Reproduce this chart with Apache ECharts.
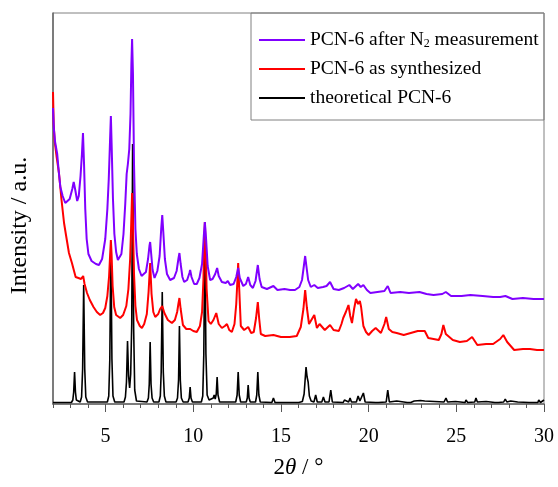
<!DOCTYPE html>
<html><head><meta charset="utf-8">
<script src="https://cdn.jsdelivr.net/npm/echarts@6/dist/echarts.min.js"></script>
<style>html,body{margin:0;padding:0;background:#fff}#c{width:558px;height:487px}</style>
</head><body><div id="c"></div>
<script>
// series names
const seriesNames = ['PCN-6 after N2 measurement', 'PCN-6 as synthesized', 'theoretical PCN-6'];
// x tick labels
const xTickLabels = [5, 10, 15, 20, 25, 30];

// [2theta, intensity (a.u., offset for stacking)]
const theoretical = [
[2,1.5],[3.05,1.5],[3.13,4],[3.18,12],[3.23,32],[3.28,12],[3.33,4],[3.42,2],
[3.55,2],[3.63,7],[3.69,35],[3.75,119],[3.81,35],[3.87,7],[3.97,2],
[5.1,2],[5.18,8],[5.24,45],[5.3,162],[5.36,45],[5.42,8],[5.52,2],
[6.05,2],[6.13,7],[6.19,22],[6.25,63],[6.31,28],[6.37,16],[6.43,30],[6.49,80],[6.54,260],[6.6,75],[6.66,14],[6.76,3],
[7.36,2],[7.44,6],[7.49,20],[7.54,62],[7.59,20],[7.65,6],[7.74,2],
[8.04,2],[8.12,8],[8.17,32],[8.23,112],[8.29,32],[8.35,8],[8.44,2],
[9.02,2],[9.1,6],[9.16,24],[9.21,78],[9.26,24],[9.32,6],[9.42,2],
[9.7,2],[9.77,6],[9.82,17],[9.87,6],[9.95,2],
[10.46,2],[10.54,8],[10.6,50],[10.66,175],[10.72,50],[10.79,9],[10.9,4],[11.14,6],[11.19,9],[11.25,5],[11.31,10],[11.36,27],[11.41,9],[11.5,2],
[11.88,2],[11.97,4],[12.06,2],
[12.42,2],[12.5,9],[12.56,32],[12.62,9],[12.7,2],
[13.02,2],[13.08,6],[13.13,19],[13.18,6],[13.25,2],
[13.55,2],[13.62,9],[13.68,32],[13.74,9],[13.82,2],
[14.48,1.5],[14.57,6],[14.66,1.5],
[16.02,1.5],[16.13,3],[16.22,2.5],[16.32,10],[16.43,37],[16.49,27],[16.55,22],[16.62,8],[16.72,3],
[16.88,2],[16.98,9],[17.07,2],
[17.33,2],[17.42,7],[17.51,2],
[17.74,2],[17.84,14],[17.93,2],
[18.55,1.5],[18.62,4],[18.7,2],[18.86,2],[18.94,6],[19.02,2],
[19.3,2],[19.4,8],[19.5,3],[19.6,3],[19.7,11],[19.8,2],
[20.4,1.5],[20.46,2.5],[20.55,1.5],
[21.0,2],[21.09,14],[21.18,2],
[21.6,3],[21.7,1.5],[22.2,1.5],[22.3,3],[22.4,1.5],[22.6,3],[22.7,1.5],[22.95,3.5],[23.05,1.5],[23.2,3],[23.3,1.5],
[24.3,2],[24.41,6],[24.5,2],
[24.95,2.5],[25.05,1.5],[25.5,1.5],[25.55,4],[25.65,1.5],
[26.05,2],[26.12,6],[26.2,2],
[26.7,2.5],[26.8,1.5],[27.2,1.5],[27.3,2.5],[27.4,1.5],[27.7,2],[27.79,5],[27.88,2],[28.1,3],[28.2,1.5],[28.5,2],[28.6,1.5],
[29.15,1.5],[29.2,3],[29.3,1.5],[29.65,1.5],[29.7,4],[29.8,1.5],[30,4]
];

const asSynthesized = [
[2,312],[2.04,280],[2.1,262],[2.2,248],[2.34,231],[2.48,205],[2.63,181],[2.75,168],[2.91,151],[3.08,141],[3.2,133],[3.29,127],[3.45,126],[3.6,125],[3.72,128],[3.8,120],[3.94,111],[4.1,104],[4.31,97],[4.5,92],[4.69,89],[4.85,91],[4.98,96],
[5.1,108],[5.2,128],[5.26,150],[5.3,164],[5.34,150],[5.4,118],[5.49,97],[5.6,89],[5.83,86],[6.0,89],[6.18,98],[6.3,115],[6.4,145],[6.46,180],[6.51,211],[6.56,180],[6.62,130],[6.7,98],[6.79,84],[6.95,78],
[7.07,76],[7.2,80],[7.35,90],[7.45,112],[7.54,141],[7.62,110],[7.72,92],[7.83,87],[8.0,90],[8.11,95],[8.23,98],[8.35,91],[8.55,84],[8.78,81],[8.95,84],[9.08,92],[9.15,100],[9.21,106],[9.28,95],[9.41,79],[9.6,75],[9.82,75],
[10.0,73],[10.2,72],[10.38,78],[10.5,92],[10.58,125],[10.62,160],[10.66,182],[10.7,160],[10.76,115],[10.87,83],[11.0,80],[11.15,84],[11.31,91],[11.45,80],[11.63,76],[11.8,78],[11.92,80],
[12.05,74],[12.2,72],[12.35,80],[12.45,100],[12.52,125],[12.56,141],[12.62,115],[12.71,78],[12.9,74],[13.13,77],[13.3,71],[13.45,72],[13.58,86],[13.68,102],[13.76,85],[13.85,70],
[14.1,68],[14.57,69],[15.0,67],[15.5,67],[15.9,68],[16.13,77],[16.28,95],[16.38,114],[16.48,96],[16.6,80],[16.7,78],[16.9,89],[17.05,76],[17.2,80],[17.5,74],[17.8,79],
[18.0,74],[18.3,73],[18.45,80],[18.55,86],[18.7,92],[18.85,99],[18.95,88],[19.05,81],[19.17,95],[19.28,105],[19.4,100],[19.5,103],[19.57,97],[19.7,78],[19.85,72],
[20.0,69],[20.2,73],[20.4,76],[20.7,71],[20.9,80],[21.0,87],[21.15,75],[21.35,72],[21.6,71],[22.0,69],[22.4,71],[22.8,73],[23.2,73],[23.4,66],
[24.0,64],[24.15,70],[24.26,79],[24.4,70],[24.8,64],[25.2,62],[25.6,63],[25.9,67],[26.2,59],[26.7,60],[27.1,60],[27.5,65],[27.68,69],[27.9,62],[28.3,54],[28.8,55],[29.2,55],[29.6,54],[30,54]
];

const afterN2 = [
[2,296],[2.05,275],[2.12,262],[2.24,250],[2.33,232],[2.42,217],[2.55,208],[2.7,201],[2.8,199],[2.95,205],[3.1,215],[3.18,222],[3.27,214],[3.38,203],[3.47,208],[3.57,228],[3.65,250],[3.71,271],[3.77,240],[3.84,195],[3.92,165],
[4.02,150],[4.2,143],[4.45,140],[4.62,139],[4.8,145],[4.98,165],[5.1,195],[5.18,225],[5.25,262],[5.3,288],[5.35,255],[5.42,205],[5.5,170],[5.6,152],[5.7,144],[5.78,142],[5.9,150],
[6.02,170],[6.12,200],[6.2,230],[6.27,240],[6.35,255],[6.42,290],[6.47,340],[6.51,365],[6.56,330],[6.62,240],[6.7,175],[6.78,150],[6.9,135],
[7.05,128],[7.16,126],[7.3,132],[7.42,145],[7.5,158],[7.54,162],[7.6,150],[7.68,134],[7.79,126],[7.95,133],[8.08,148],[8.17,175],[8.23,189],[8.29,172],[8.38,145],[8.5,130],[8.68,124],[8.9,126],
[9.05,133],[9.15,145],[9.21,151],[9.28,140],[9.38,127],[9.48,122],[9.65,124],[9.78,131],[9.82,134],[9.9,127],[10.05,120],[10.2,120],[10.35,126],[10.5,140],[10.6,168],[10.66,182],[10.73,165],[10.82,138],[10.96,124],
[11.1,125],[11.25,130],[11.36,136],[11.45,128],[11.63,122],[11.85,121],[11.97,123],[12.1,119],[12.3,120],[12.45,127],[12.56,136],[12.65,126],[12.85,118],[13.0,120],[13.13,127],[13.25,119],[13.4,116],[13.55,123],[13.68,139],[13.78,125],[13.9,117],
[14.2,115],[14.57,118],[14.8,114],[15.2,115],[15.52,114],[15.8,114],[16.05,117],[16.2,124],[16.32,140],[16.38,148],[16.45,138],[16.55,124],[16.7,117],[16.9,119],[17.1,116],[17.4,117],[17.6,118],[17.8,122],
[18.0,115],[18.3,114],[18.6,116],[18.9,119],[19.1,115],[19.4,120],[19.55,117],[19.7,119],[19.9,114],[20.1,111],[20.5,112],[20.9,113],[21.09,118],[21.25,111],[21.8,112],[22.3,111],[22.9,112],[23.3,110],[23.7,109],
[24.2,110],[24.4,112],[24.7,108],[25.3,108],[25.8,109],[26.5,108],[27.1,107],[27.5,107],[27.8,108],[28.2,105],[28.8,106],[29.4,105],[30,105]
];

const serif = '"Liberation Serif", "DejaVu Serif", serif';
const chart = echarts.init(document.getElementById('c'), null, {renderer: 'canvas'});
chart.setOption({
  animation: false,
  backgroundColor: '#fff',
  grid: {left: 53, right: 14, top: 13, bottom: 83, show: true, borderColor: '#808080', borderWidth: 1, containLabel: false},
  legend: {
    orient: 'vertical', left: 254, top: 25, icon: 'rect', itemWidth: 46, itemHeight: 2, itemGap: 9,
    data: seriesNames,
    formatter: function (n) { return n === seriesNames[0] ? 'PCN-6 after N{sub|2} measurement' : n; },
    textStyle: {fontFamily: serif, fontSize: 19.5, color: '#000', lineHeight: 20,
      rich: {sub: {fontFamily: serif, fontSize: 12, verticalAlign: 'bottom', padding: [10, 0, 0, 0]}}}
  },
  graphic: [{type: 'rect', shape: {x: 251, y: 13, width: 293, height: 107}, style: {fill: 'none', stroke: '#808080', lineWidth: 1}, silent: true}],
  xAxis: [{
    type: 'value', min: 2, max: 30, interval: 1,
    name: '{a|2}{b|θ}{a| / °}', nameLocation: 'middle', nameGap: 52,
    nameTextStyle: {rich: {a: {fontFamily: serif, fontSize: 23, color: '#000'}, b: {fontFamily: serif, fontSize: 23, fontStyle: 'italic', color: '#000'}}},
    axisLine: {show: true, lineStyle: {color: '#666', width: 1.5}},
    axisTick: {show: true, inside: false, length: 4, lineStyle: {color: '#555'}},
    axisLabel: {fontFamily: serif, fontSize: 20, color: '#000', margin: 23,
      formatter: function (v) { return xTickLabels.indexOf(v) >= 0 ? String(v) : ''; }},
    splitLine: {show: false}
  }, {
    type: 'value', min: 2, max: 30, position: 'bottom', gridIndex: 0,
    axisLine: {show: false},
    axisTick: {show: true, inside: false, length: 8, customValues: xTickLabels, lineStyle: {color: '#555'}},
    axisLabel: {show: false},
    splitLine: {show: false}
  }],
  yAxis: {
    type: 'value', min: 0, max: 391,
    name: 'Intensity / a.u.', nameLocation: 'middle', nameGap: 21,
    nameTextStyle: {fontFamily: serif, fontSize: 24, color: '#000', padding: [0, 34, 0, 0]},
    axisLine: {show: true, lineStyle: {color: '#666', width: 1.5}},
    axisTick: {show: false}, axisLabel: {show: false}, splitLine: {show: false}
  },
  series: [
    {name: seriesNames[2], type: 'line', data: theoretical, showSymbol: false, symbol: 'none', lineStyle: {color: '#000', width: 1.6}, itemStyle: {color: '#000'}, z: 2},
    {name: seriesNames[1], type: 'line', data: asSynthesized, showSymbol: false, symbol: 'none', lineStyle: {color: '#ff0000', width: 2}, itemStyle: {color: '#ff0000'}, z: 3},
    {name: seriesNames[0], type: 'line', data: afterN2, showSymbol: false, symbol: 'none', lineStyle: {color: '#8000ff', width: 2}, itemStyle: {color: '#8000ff'}, z: 4}
  ]
});
</script></body></html>
